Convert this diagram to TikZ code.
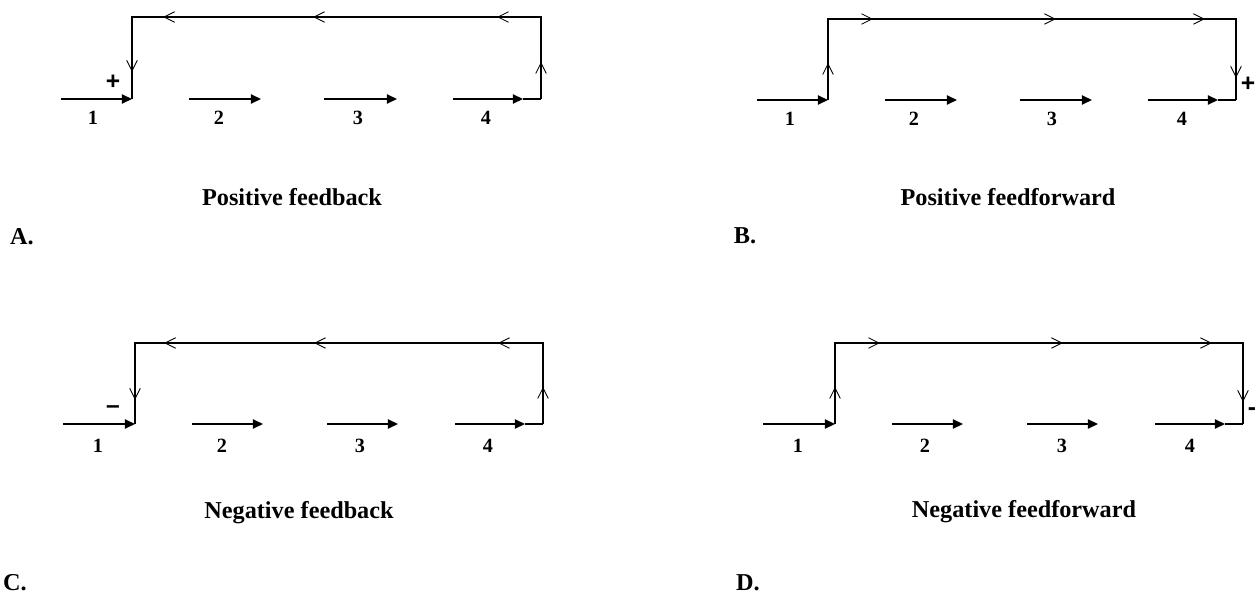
\documentclass[tikz,border=0pt]{standalone}
\usepackage{fontspec}
\setmainfont{Liberation Serif}
\setsansfont{Liberation Sans}
\usetikzlibrary{arrows.meta,decorations.markings}

\tikzset{
  fwd/.style={line width=0.8pt,-{Triangle[length=5.7pt,width=5.2pt]}},
  loopline/.style={line width=0.8pt},
  chev/.style={postaction={decorate,decoration={markings,
      mark=at position #1 with {\arrow{Straight Barb[length=6pt,width=6pt,line width=0.5pt]}}}}},
  num/.style={font=\fontsize{11.5}{13}\selectfont\bfseries},
  headline/.style={font=\fontsize{13.8}{16}\selectfont\bfseries},
  signmark/.style={font=\sffamily\bfseries\fontsize{14}{16}\selectfont}
}

\begin{document}
\begin{tikzpicture}[x=0.02cm,y=-0.02cm]
  \useasboundingbox (0,0) rectangle (1258,595);

  % A. Positive feedback
  \begin{scope}
    \coordinate (s1) at (61,99);  \coordinate (e1) at (132,99);
    \coordinate (s2) at (189,99); \coordinate (e2) at (261,99);
    \coordinate (s3) at (324,99); \coordinate (e3) at (397,99);
    \coordinate (s4) at (453,99); \coordinate (e4) at (523,99);
    \coordinate (r) at (541,99);  \coordinate (t) at (132,17);
    \draw[fwd] (s1) -- (e1);
    \draw[fwd] (s2) -- (e2);
    \draw[fwd] (s3) -- (e3);
    \draw[fwd] (s4) -- (e4);
    \draw[loopline] (e4) -- (r);
    \draw[loopline,chev=0.74cm,chev=2.52cm,chev=6.2cm,chev=9.2cm,chev=10.92cm]
      (r) |- (t) -- (e1);
    \node[num] (n1) at (93,118) {1};
    \node[num] (n2) at (219,118) {2};
    \node[num] (n3) at (358,118) {3};
    \node[num] (n4) at (486,118) {4};
    \node[signmark] (sg) at (113,82) {+};
  \end{scope}

  % B. Positive feedforward
  \begin{scope}[shift={(696,1)}]
    \coordinate (s1) at (61,99);  \coordinate (e1) at (132,99);
    \coordinate (s2) at (189,99); \coordinate (e2) at (261,99);
    \coordinate (s3) at (324,99); \coordinate (e3) at (396,99);
    \coordinate (s4) at (452,99); \coordinate (e4) at (522,99);
    \coordinate (r) at (540,99);  \coordinate (t) at (540,18);
    \draw[fwd] (s1) -- (e1);
    \draw[fwd] (s2) -- (e2);
    \draw[fwd] (s3) -- (e3);
    \draw[fwd] (s4) -- (e4);
    \draw[loopline] (e4) -- (r);
    \draw[loopline,chev=0.74cm,chev=2.52cm,chev=6.18cm,chev=9.16cm,chev=10.96cm]
      (e1) |- (t) -- (r);
    \node[num] (n1) at (94,118) {1};
    \node[num] (n2) at (218,118) {2};
    \node[num] (n3) at (356,118) {3};
    \node[num] (n4) at (486,118) {4};
    \node[signmark] (sg) at (552,83) {+};
  \end{scope}

  % C. Negative feedback
  \begin{scope}[shift={(2,325)}]
    \coordinate (s1) at (61,99);  \coordinate (e1) at (133,99);
    \coordinate (s2) at (190,99); \coordinate (e2) at (261,99);
    \coordinate (s3) at (325,99); \coordinate (e3) at (396,99);
    \coordinate (s4) at (453,99); \coordinate (e4) at (523,99);
    \coordinate (r) at (541,99);  \coordinate (t) at (133,18);
    \draw[fwd] (s1) -- (e1);
    \draw[fwd] (s2) -- (e2);
    \draw[fwd] (s3) -- (e3);
    \draw[fwd] (s4) -- (e4);
    \draw[loopline] (e4) -- (r);
    \draw[loopline,chev=0.74cm,chev=2.52cm,chev=6.2cm,chev=9.2cm,chev=10.92cm]
      (r) |- (t) -- (e1);
    \node[num] (n1) at (96,121) {1};
    \node[num] (n2) at (220,121) {2};
    \node[num] (n3) at (358,121) {3};
    \node[num] (n4) at (486,121) {4};
    \node[signmark] (sg) at (111,85) {\char"2013};
  \end{scope}

  % D. Negative feedforward
  \begin{scope}[shift={(702,325)}]
    \coordinate (s1) at (61,99);  \coordinate (e1) at (133,99);
    \coordinate (s2) at (190,99); \coordinate (e2) at (261,99);
    \coordinate (s3) at (325,99); \coordinate (e3) at (396,99);
    \coordinate (s4) at (453,99); \coordinate (e4) at (523,99);
    \coordinate (r) at (541,99);  \coordinate (t) at (541,18);
    \draw[fwd] (s1) -- (e1);
    \draw[fwd] (s2) -- (e2);
    \draw[fwd] (s3) -- (e3);
    \draw[fwd] (s4) -- (e4);
    \draw[loopline] (e4) -- (r);
    \draw[loopline,chev=0.74cm,chev=2.52cm,chev=6.18cm,chev=9.16cm,chev=10.96cm]
      (e1) |- (t) -- (r);
    \node[num] (n1) at (96,121) {1};
    \node[num] (n2) at (223,121) {2};
    \node[num] (n3) at (360,121) {3};
    \node[num] (n4) at (488,121) {4};
    \node[signmark,inner sep=1pt] (sg) at (550,87) {-};
  \end{scope}

  % Captions
  \node[headline] (capA) at (292,197) {Positive feedback};
  \node[headline] (capB) at (1008,197) {Positive feedforward};
  \node[headline] (capC) at (299,513) {Negative feedback};
  \node[headline] (capD) at (1024,512) {Negative feedforward};
  \node[headline] (letA) at (22,237) {A.};
  \node[headline] (letB) at (745,236) {B.};
  \node[headline] (letC) at (15,583) {C.};
  \node[headline] (letD) at (748,583) {D.};
\end{tikzpicture}
\end{document}
